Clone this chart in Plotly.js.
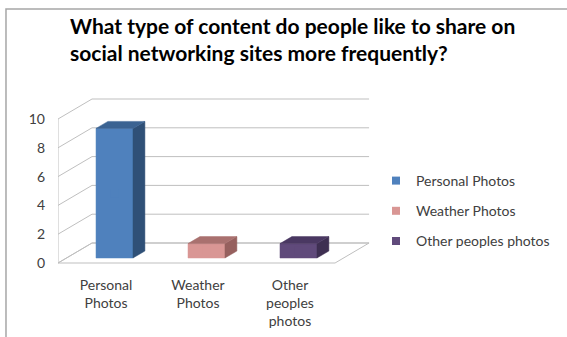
<!DOCTYPE html>
<html>
<head>
<meta charset="utf-8">
<script src="https://cdn.plot.ly/plotly-3.0.1.min.js"></script>
<style>
  html, body { margin: 0; padding: 0; background: #fff; }
  #chart { width: 567px; height: 337px; }
</style>
</head>
<body>
<div id="chart"></div>
<script>
// ---- data ----
const categories = ['Personal Photos', 'Weather Photos', 'Other peoples photos'];
const values = [9, 1, 1];
const tickLabels = ['Personal<br>Photos', 'Weather<br>Photos', 'Other<br>peoples<br>photos'];
const yTicks = [0, 2, 4, 6, 8, 10];

// ---- style ----
const frontColors = ['#4F81BD', '#D99694', '#604A7B'];
const topColors   = ['#3B6392', '#A9716F', '#4A3862'];
const sideColors  = ['#2F5077', '#96605E', '#3E2F52'];
const gridColor = '#BFBFBF';
const FONT = 'Lato, "Open Sans", sans-serif';

// projection helpers (in axis units)
const xLeft = -0.522, xRightFront = 2.49, xRightBack = 2.86;
const depthX = 0.3696, depthY = 1.389;   // full floor depth
const f0 = 0.25, f1 = 0.60;               // bar depth band
const halfW = 0.201;
const yMax = 10;

const traces = [];
const shapes = [];

// walls and floor
const gx = [], gy = [];
gx.push(xLeft, xLeft, null); gy.push(0, yMax, null);
yTicks.forEach(k => {
  gx.push(xLeft, xLeft + depthX, xRightBack, null);
  gy.push(k, k + depthY, k + depthY, null);
});
traces.push({
  type: 'scatter', mode: 'lines', x: gx, y: gy,
  line: {color: gridColor, width: 1}, hoverinfo: 'skip', showlegend: false
});
const floorX = [xLeft, xRightFront, xRightFront + depthX, xLeft + depthX, xLeft];
const floorY = [0, 0, depthY, depthY, 0];
traces.push({
  type: 'scatter', mode: 'lines', x: floorX, y: floorY,
  line: {color: gridColor, width: 1}, hoverinfo: 'skip', showlegend: false
});

const base = f0 * depthY;
const ddx = (f1 - f0) * depthX, ddy = (f1 - f0) * depthY;

categories.forEach((c, i) => {
  const v = values[i];
  const cx = i + f0 * depthX;
  const xl = cx - halfW, xr = cx + halfW;
  // front face
  traces.push({
    type: 'scatter', mode: 'lines', fill: 'toself',
    x: [xl, xr, xr, xl, xl], y: [base, base, base + v, base + v, base],
    fillcolor: frontColors[i], line: {color: frontColors[i], width: 0.5},
    hoverinfo: 'skip', showlegend: false, legendgroup: 'g' + i
  });
  // right side
  traces.push({
    type: 'scatter', mode: 'lines', fill: 'toself',
    x: [xr, xr, xr + ddx, xr + ddx, xr],
    y: [base, base + v, base + v + ddy, base + ddy, base],
    fillcolor: sideColors[i], line: {color: sideColors[i], width: 0.5},
    hoverinfo: 'skip', showlegend: false, legendgroup: 'g' + i
  });
  // top
  traces.push({
    type: 'scatter', mode: 'lines', fill: 'toself',
    x: [xl, xr, xr + ddx, xl + ddx, xl],
    y: [base + v, base + v, base + v + ddy, base + v + ddy, base + v],
    fillcolor: topColors[i], line: {color: topColors[i], width: 0.5},
    hoverinfo: 'skip', showlegend: false, legendgroup: 'g' + i
  });
  // legend entry: small square marker sitting on the front face
  traces.push({
    type: 'scatter', mode: 'markers', name: c,
    x: [cx], y: [base + v / 2], customdata: [v],
    marker: {symbol: 'square', size: 8, color: frontColors[i], line: {width: 0}},
    legendgroup: 'g' + i, hovertemplate: '%{customdata}<extra>' + c + '</extra>'
  });
});

// outer frame (top and left only)
shapes.push({
  type: 'path', xref: 'paper', yref: 'paper',
  path: 'M -0.1667 -0.34 L -0.1667 1.438 L 1.65 1.438',
  line: {color: '#A6A6A6', width: 1.5}
});

const layout = {
  width: 567, height: 337,
  margin: {l: 58, r: 197, t: 90, b: 62},
  paper_bgcolor: '#fff', plot_bgcolor: 'rgba(0,0,0,0)',
  font: {family: FONT, size: 14, color: '#404040'},
  title: {
    text: 'What type of content do people like to share on<br>social networking sites more frequently?',
    font: {family: FONT, size: 21, color: '#000', weight: 'bold'},
    xref: 'container', yref: 'container', x: 70 / 567, xanchor: 'left',
    y: 1 - 34 / 337, yanchor: 'top'
  },
  xaxis: {
    range: [xLeft, 2.87], tickvals: [0, 1, 2], ticktext: tickLabels,
    showgrid: false, zeroline: false, showline: false, ticks: '',
    tickfont: {family: FONT, size: 14, color: '#404040'}, fixedrange: true
  },
  yaxis: {
    range: [-0.8333, 12.014], tickvals: yTicks,
    showgrid: false, zeroline: false, showline: false, ticks: '',
    ticklabelstandoff: 12,
    tickfont: {family: FONT, size: 14, color: '#404040'}, fixedrange: true
  },
  legend: {
    xref: 'container', yref: 'container', x: 376 / 567, xanchor: 'left',
    y: 1 - 211 / 337, yanchor: 'middle', tracegroupgap: 9, itemwidth: 30,
    font: {family: FONT, size: 14, color: '#404040'}, bgcolor: 'rgba(0,0,0,0)'
  },
  shapes: shapes,
  showlegend: true
};

Plotly.newPlot('chart', traces, layout, {displayModeBar: false, staticPlot: true});
</script>
</body>
</html>
